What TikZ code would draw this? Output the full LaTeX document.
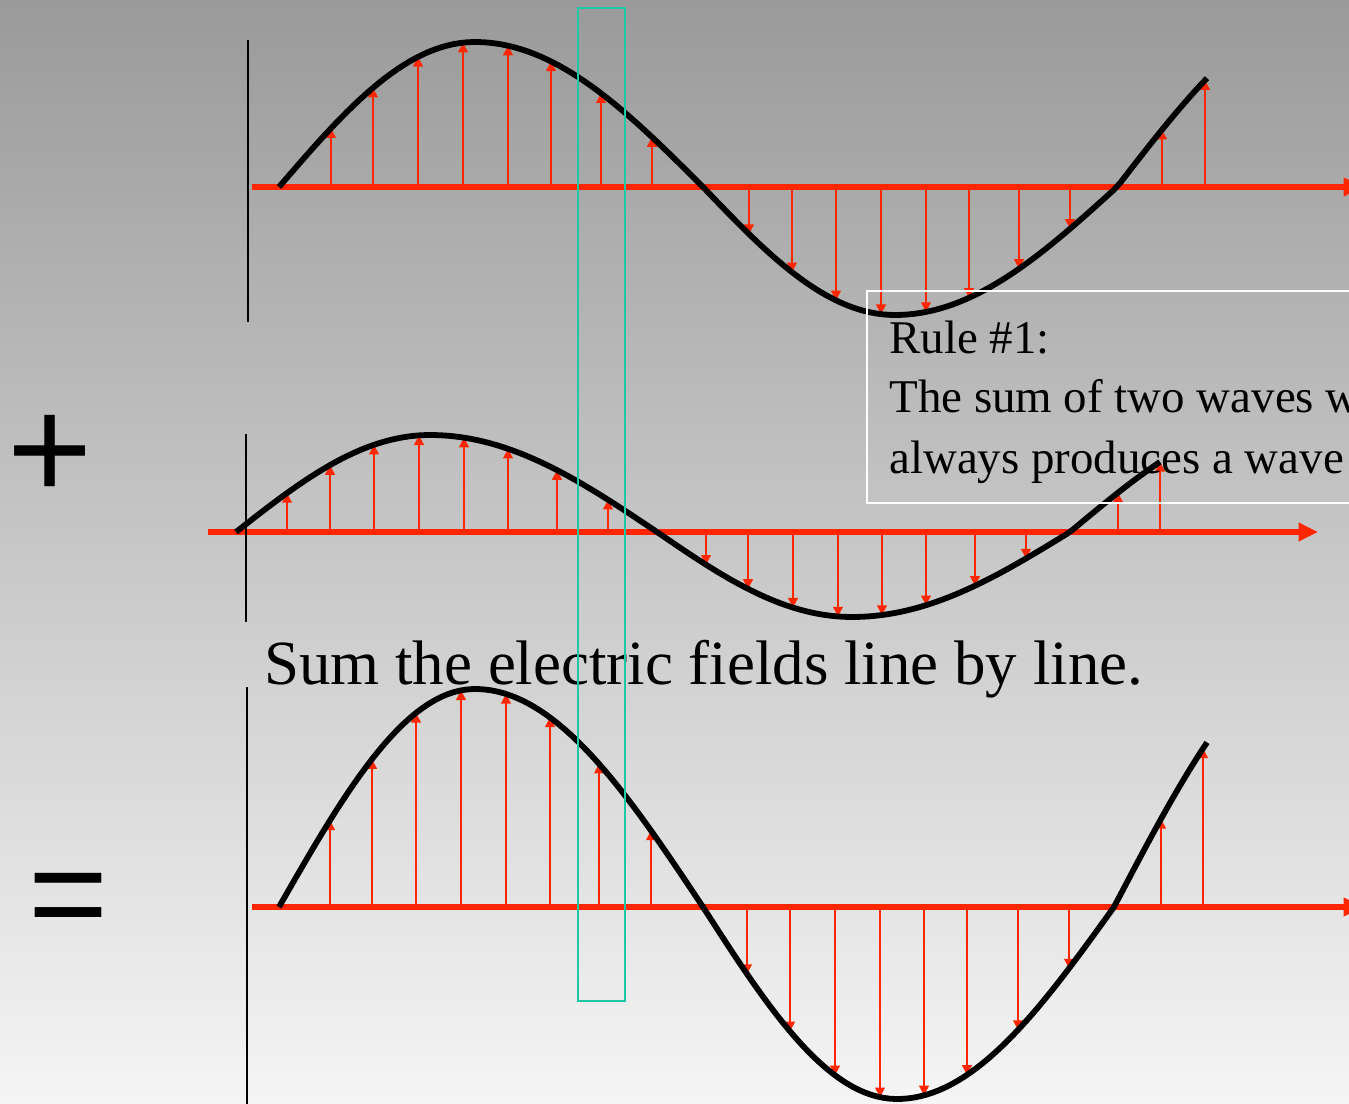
\documentclass[tikz,border=0pt]{standalone}
\usepackage{fontspec}
\setmainfont{Liberation Serif}
\newfontfamily\signfont{Liberation Sans}
\usetikzlibrary{arrows.meta,positioning}

\definecolor{fieldred}{RGB}{255,38,0}
\definecolor{boxteal}{RGB}{30,200,165}
\definecolor{bgtop}{RGB}{154,154,154}
\definecolor{bgbottom}{RGB}{245,245,245}

\tikzset{
  axis/.style={fieldred, line width=3.4pt, -{Triangle[length=11pt,width=10pt]}},
  field/.style={fieldred, line width=1.2pt, -{Triangle[length=5.5pt,width=5.5pt]}},
  wave/.style={black, line width=3.3pt},
  frame/.style={black, line width=1.1pt},
  rule/.style={anchor=base west, inner sep=0pt, font=\fontsize{26.7}{32}\selectfont},
  sign/.style={inner sep=0pt, font=\signfont\fontsize{83}{90}\selectfont}
}

\begin{document}
\begin{tikzpicture}[x=0.02cm, y=-0.02cm,
    declare function={lobe(\t)=(\t<\xp) ? \Aa*sin((\t-\xa)/(\xp-\xa)*90) :
      ((\t<\xb) ? \Aa*cos((\t-\xp)/(\xb-\xp)*90) :
      ((\t<\xq) ? -\Ab*sin((\t-\xb)/(\xq-\xb)*90) :
      ((\t<\xc) ? -\Ab*cos((\t-\xq)/(\xc-\xq)*90) : \Ac*sin((\t-\xc)/(\xc-\xq)*90))));}]
  \useasboundingbox (0,0) rectangle (1349,1104);
  \clip (0,0) rectangle (1349,1104);
  \shade[top color=bgtop, bottom color=bgbottom] (0,0) rectangle (1349,1104);

  % first wave
  \begin{scope}
    \def\ya{187}\def\xa{279}\def\xp{475}\def\xb{703}\def\xq{895}\def\xc{1117}\def\xe{1207}
    \def\Aa{145}\def\Ab{128}\def\Ac{183}
    \foreach \x in {331,373,418,463,508,551,601,652,749,792,836,881,926,969,1019,1070,1162,1205}
      \draw[field] (\x,\ya) -- (\x,{\ya-lobe(\x)});
    \draw[axis] (252,\ya) -- (1363,\ya);
    \draw[wave] plot[domain=\xa:\xe, samples=150] (\x,{\ya-lobe(\x)});
    \draw[frame] (248,40) -- (248,322);
  \end{scope}

  % second wave
  \begin{scope}
    \def\ya{532}\def\xa{236}\def\xp{430}\def\xb{657}\def\xq{852}\def\xc{1070}\def\xe{1160}
    \def\Aa{97}\def\Ab{85}\def\Ac{116}
    \foreach \x in {287,330,374,419,464,508,557,608,706,748,793,838,882,926,975,1026,1118,1160}
      \draw[field] (\x,\ya) -- (\x,{\ya-lobe(\x)});
    \draw[axis] (208,\ya) -- (1318,\ya);
    \draw[wave] plot[domain=\xa:\xe, samples=150] (\x,{\ya-lobe(\x)});
    \draw[frame] (246,434) -- (246,622);
  \end{scope}

  % sum
  \begin{scope}
    \def\ya{907}\def\xa{279}\def\xp{475}\def\xb{703}\def\xq{897}\def\xc{1114}\def\xe{1207}
    \def\Aa{218}\def\Ab{192}\def\Ac{264}
    \foreach \x in {330,372,416,461,506,550,599,651,747,790,835,880,924,967,1018,1069,1161,1203}
      \draw[field] (\x,\ya) -- (\x,{\ya-lobe(\x)});
    \draw[axis] (252,\ya) -- (1363,\ya);
    \draw[wave] plot[domain=\xa:\xe, samples=150] (\x,{\ya-lobe(\x)});
    \draw[frame] (247,687) -- (247,1110);
  \end{scope}

  \node[sign] (plus) at (50,457) {+};
  \node[sign, font=\signfont\fontsize{78}{90}\selectfont] (equals) at (69,907) {=};

  \node[anchor=base west, inner sep=0pt, font=\fontsize{35.8}{42}\selectfont] (sumtext)
    at (264,684) {Sum the electric fields line by line.};

  \draw[white, line width=0.9pt] (867,291) rectangle (1360,503);
  \node[rule] (rule1) at (889,354) {Rule \#1:};
  \node[rule] (rule2) at (889,413) {The sum of two waves w};
  \node[rule] (rule3) at (889,474) {always produces a wave};

  \draw[boxteal, line width=1.2pt] (578,8) rectangle (625,1001);
\end{tikzpicture}
\end{document}
